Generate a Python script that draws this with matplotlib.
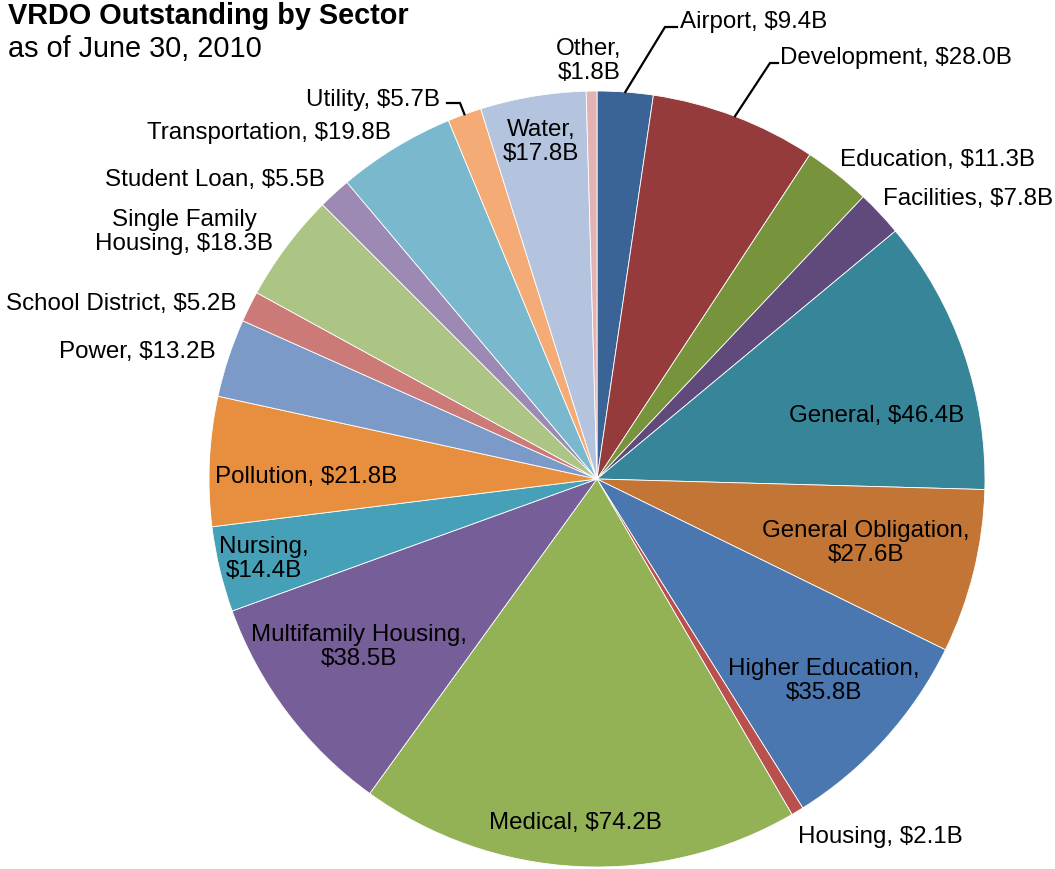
import numpy as np
import matplotlib
matplotlib.use("Agg")
import matplotlib.pyplot as plt

plt.rcParams['font.family'] = ['Liberation Sans', 'DejaVu Sans']

# ---------------- data ----------------
sectors = ["Airport", "Development", "Education", "Facilities", "General",
           "General Obligation", "Higher Education", "Housing", "Medical",
           "Multifamily Housing", "Nursing", "Pollution", "Power",
           "School District", "Single Family Housing", "Student Loan",
           "Transportation", "Utility", "Water", "Other"]
values = [9.4, 28.0, 11.3, 7.8, 46.4, 27.6, 35.8, 2.1, 74.2, 38.5,
          14.4, 21.8, 13.2, 5.2, 18.3, 5.5, 19.8, 5.7, 17.8, 1.8]
colors = ["#3A6496", "#953B3B", "#77933C", "#604A7B", "#378598",
          "#C37535", "#4A77B0", "#B9504D", "#93B155", "#765E98",
          "#46A1B8", "#E88E3F", "#7B9AC8", "#CC7A78", "#ADC584",
          "#9D8AB4", "#7AB9CD", "#F5AB75", "#B5C4DE", "#E2B3B2"]
# how label name is broken into lines (layout)
label_prefix = {"Other": "Other,\n", "Water": "Water,\n",
                "Single Family Housing": "Single Family\nHousing, ",
                "Nursing": "Nursing,\n",
                "Multifamily Housing": "Multifamily Housing,\n",
                "General Obligation": "General Obligation,\n",
                "Higher Education": "Higher Education,\n"}

# ---------------- layout (pixel coords, y from top) ----------------
W, H = 1055, 869
CX, CY, R = 597, 479, 388
label_pos = {
    "Airport": (680, 22, "left"),
    "Development": (780, 58, "left"),
    "Education": (840, 160, "left"),
    "Facilities": (883, 199, "left"),
    "General": (877, 416, "center"),
    "General Obligation": (866, 543, "center"),
    "Higher Education": (824, 681, "center"),
    "Housing": (798, 837, "left"),
    "Medical": (575, 823, "center"),
    "Multifamily Housing": (359, 647, "center"),
    "Nursing": (264, 559, "center"),
    "Pollution": (215, 477, "left"),
    "Power": (216, 352, "right"),
    "School District": (237, 304, "right"),
    "Single Family Housing": (184, 232, "center"),
    "Student Loan": (325, 180, "right"),
    "Transportation": (391, 133, "right"),
    "Utility": (440, 100, "right"),
    "Water": (541, 142, "center"),
    "Other": (589, 61, "center"),
}
leader_elbows = {
    "Airport": [(665, 27), (677, 27)],
    "Development": [(770, 63), (778, 63)],
    "Utility": [(460, 103), (447, 103)],
}

fig = plt.figure(figsize=(W / 100, H / 100), dpi=100)
ax = fig.add_axes([0, 0, 1, 1])

wedges, _ = ax.pie(values, colors=colors, startangle=90, counterclock=False,
                   center=(CX, H - CY), radius=R,
                   wedgeprops=dict(edgecolor="white", linewidth=0.6))
ax.set_xlim(0, W)
ax.set_ylim(0, H)
ax.set_aspect("equal")
ax.axis("off")

for name, val, w in zip(sectors, values, wedges):
    x, y, ha = label_pos[name]
    txt = label_prefix.get(name, name + ", ") + f"${val:.1f}B"
    ax.text(x, H - y, txt, ha=ha, va="center", multialignment="center",
            fontsize=17.4, color="black", linespacing=1.1)
    if name in leader_elbows:
        mid = np.deg2rad((w.theta1 + w.theta2) / 2)
        sx = CX + R * np.cos(mid)
        sy = (H - CY) + R * np.sin(mid)
        pts = [(sx, sy)] + [(px, H - py) for px, py in leader_elbows[name]]
        ax.plot([p[0] for p in pts], [p[1] for p in pts], color="black",
                lw=1.6, solid_joinstyle="miter")

ax.text(8, H - 24, "VRDO Outstanding by Sector", fontsize=20.8,
        fontweight="bold", ha="left", va="baseline")
ax.text(8, H - 57, "as of June 30, 2010", fontsize=20.8,
        ha="left", va="baseline")

fig.savefig("out.png", dpi=100)
